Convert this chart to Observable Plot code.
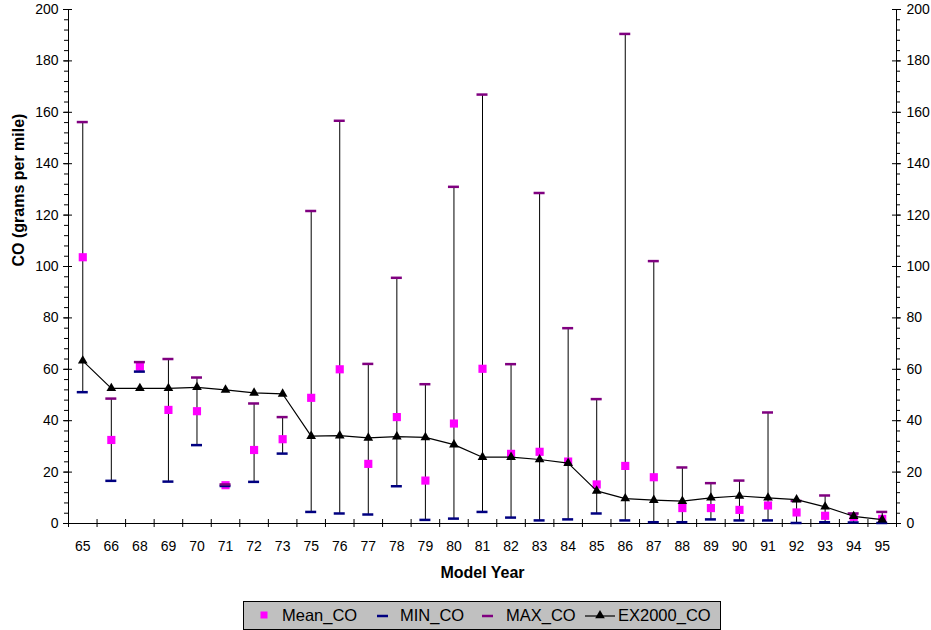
<!DOCTYPE html>
<html>
<head>
<meta charset="utf-8">
<script src="https://cdn.jsdelivr.net/npm/d3@7"></script>
<script src="https://cdn.jsdelivr.net/npm/@observablehq/plot@0.6"></script>
<style>
  html, body { margin: 0; padding: 0; background: #fff; }
  #wrap { position: relative; width: 931px; height: 630px; font-family: "Liberation Sans", Arial, sans-serif; }
  #legend { position: absolute; left: 243px; top: 601px; width: 476px; height: 27px; background: #c0c0c0; border: 1px solid #000; }
  #legend .it { position: absolute; top: 0; height: 27px; line-height: 27px; font-size: 16.5px; color: #000; white-space: nowrap; }
  #legend svg { position: absolute; top: 0; }
</style>
</head>
<body>
<div id="wrap">
  <div id="chart"></div>
  <div id="legend"></div>
</div>
<script>
// ---- data ----
const years = ["65","66","68","69","70","71","72","73","75","76","77","78","79","80","81","82","83","84","85","86","87","88","89","90","91","92","93","94","95"];
const meanCO = [103.6,32.5,61,44.2,43.7,14.9,28.6,32.8,48.9,60,23.2,41.4,16.7,38.9,60.2,27.1,27.9,24.1,15.2,22.4,18,6,6,5.3,7,4.3,3,2.6,1.8];
const minCO  = [51.1,16.6,59.1,16.3,30.5,14.6,16.2,27.2,4.5,3.9,3.5,14.5,1.4,1.9,4.5,2.3,1.2,1.6,3.9,1.2,0.5,0.5,1.6,1.2,1.2,0.2,0.5,0.4,0.2];
const maxCO  = [156.2,48.6,62.8,64,56.8,15.2,46.7,41.4,121.6,156.7,62.1,95.6,54.2,131,166.9,62,128.6,76,48.4,190.5,102.1,21.8,15.7,16.7,43.2,8.8,10.9,3.9,4.5];
const ex2000 = [63.3,52.6,52.6,52.6,53,52,50.8,50.4,34,34.2,33.3,33.8,33.5,30.7,25.8,25.8,24.9,23.5,12.7,9.7,9.1,8.7,10,10.7,10,9.3,6.5,2.8,1.5];
const yMajorTicks = [0,20,40,60,80,100,120,140,160,180,200];
const yMinorTicks = d3.range(0, 201, 4);
const seriesNames = ["Mean_CO","MIN_CO","MAX_CO","EX2000_CO"];

const rows = years.map((y, i) => ({i, year: y, mean: meanCO[i], min: minCO[i], max: maxCO[i], ex: ex2000[i]}));
const n = years.length;
const xLo = -0.5, xHi = n - 0.5;
const catBounds = d3.range(n + 1).map(k => k - 0.5);

const MAXC = "#800080", MINC = "#000080", MEANC = "#ff00ff";

const chart = Plot.plot({
  width: 931,
  height: 595,
  marginLeft: 68,
  marginRight: 35,
  marginTop: 9,
  marginBottom: 72,
  style: {fontFamily: '"Liberation Sans", Arial, sans-serif', fontSize: "14px", color: "#000", background: "#fff"},
  x: {type: "linear", domain: [xLo, xHi], axis: null},
  y: {domain: [0, 200], axis: null},
  marks: [
    // axis lines
    Plot.ruleX([xLo, xHi], {stroke: "#000", strokeWidth: 1}),
    Plot.ruleY([0], {stroke: "#000", strokeWidth: 1}),
    // left y ticks
    Plot.ruleY(yMinorTicks, {y: d => d, x1: xLo, x2: xLo, insetLeft: -4, insetRight: 0, stroke: "#000"}),
    Plot.ruleY(yMajorTicks, {y: d => d, x1: xLo, x2: xLo, insetLeft: -5, insetRight: -4, stroke: "#000"}),
    // right y ticks
    Plot.ruleY(yMinorTicks, {y: d => d, x1: xHi, x2: xHi, insetLeft: 0, insetRight: -4, stroke: "#000"}),
    Plot.ruleY(yMajorTicks, {y: d => d, x1: xHi, x2: xHi, insetLeft: -4, insetRight: -5, stroke: "#000"}),
    // x category boundary ticks
    Plot.ruleX(catBounds, {x: d => d, y1: 0, y2: 0, insetTop: -4, insetBottom: -4, stroke: "#000"}),
    // tick labels
    Plot.axisY({anchor: "left", ticks: yMajorTicks, tickSize: 0, tickPadding: 10, label: null, fontSize: 14}),
    Plot.axisY({anchor: "right", ticks: yMajorTicks, tickSize: 0, tickPadding: 10, label: null, fontSize: 14}),
    Plot.axisX({ticks: d3.range(n), tickFormat: i => years[i], tickSize: 0, tickPadding: 18, label: null, fontSize: 14}),
    // axis titles
    Plot.text(["Model Year"], {frameAnchor: "bottom", dy: 54, fontWeight: "bold", fontSize: 16, text: d => d}),
    Plot.text(["CO (grams per mile)"], {frameAnchor: "left", dx: -50, rotate: -90, fontWeight: "bold", fontSize: 16, text: d => d}),
    // hi-lo lines
    Plot.ruleX(rows, {x: "i", y1: "min", y2: "max", stroke: "#000", strokeWidth: 1}),
    // series
    Plot.dot(rows, {x: "i", y: "mean", symbol: "square", fill: MEANC, r: 4.6, stroke: null}),
    Plot.ruleY(rows, {y: "min", x1: "i", x2: "i", insetLeft: -5.5, insetRight: -5.5, stroke: MINC, strokeWidth: 2.5}),
    Plot.ruleY(rows, {y: "max", x1: "i", x2: "i", insetLeft: -5.5, insetRight: -5.5, stroke: MAXC, strokeWidth: 2.5}),
    Plot.line(rows, {x: "i", y: "ex", stroke: "#000", strokeWidth: 1.2}),
    Plot.dot(rows, {x: "i", y: "ex", symbol: "triangle", fill: "#000", r: 3.6, stroke: null})
  ]
});
document.getElementById("chart").appendChild(chart);

// ---- legend ----
const legend = d3.select("#legend");
function addSvg(left, w) {
  return legend.append("svg").attr("width", w).attr("height", 27).style("left", left + "px");
}
// Mean_CO
addSvg(14, 12).append("rect").attr("x", 2.5).attr("y", 9.5).attr("width", 7).attr("height", 7).attr("fill", MEANC);
legend.append("div").attr("class", "it").style("left", "38px").text(seriesNames[0]);
// MIN_CO
addSvg(133, 12).append("line").attr("x1", 0).attr("x2", 11).attr("y1", 14).attr("y2", 14).attr("stroke", MINC).attr("stroke-width", 2.5);
legend.append("div").attr("class", "it").style("left", "156px").text(seriesNames[1]);
// MAX_CO
addSvg(238, 12).append("line").attr("x1", 0).attr("x2", 11).attr("y1", 14).attr("y2", 14).attr("stroke", MAXC).attr("stroke-width", 2.5);
legend.append("div").attr("class", "it").style("left", "262px").text(seriesNames[2]);
// EX2000_CO
const ex = addSvg(341, 32);
ex.append("line").attr("x1", 0).attr("x2", 30).attr("y1", 14).attr("y2", 14).attr("stroke", "#000").attr("stroke-width", 1.2);
ex.append("path").attr("d", d3.symbol(d3.symbolTriangle, 40)()).attr("transform", "translate(15,13.5)").attr("fill", "#000");
legend.append("div").attr("class", "it").style("left", "374px").text(seriesNames[3]);
</script>
</body>
</html>
